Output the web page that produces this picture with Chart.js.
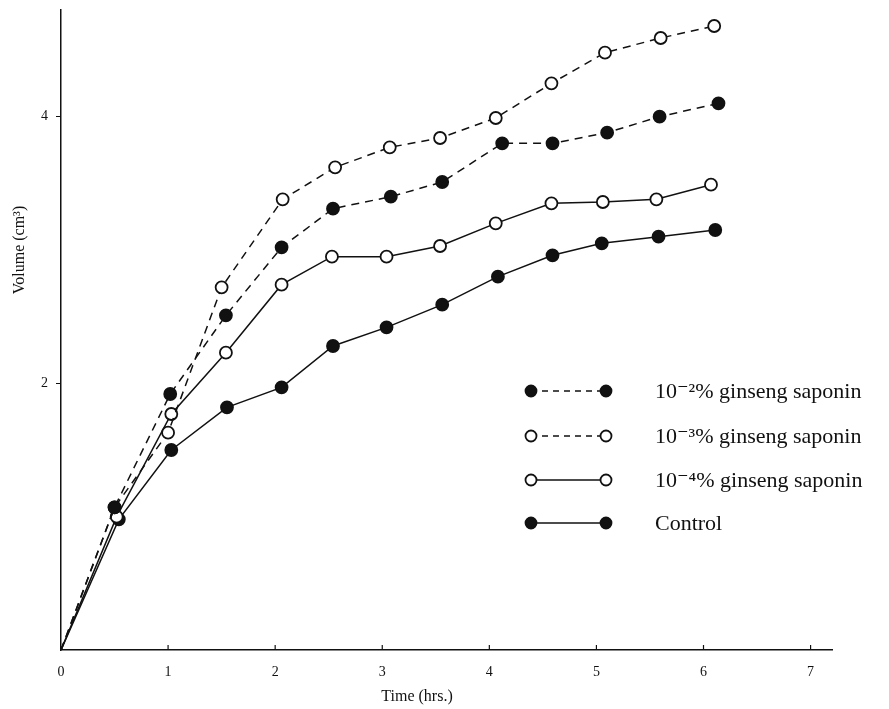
<!DOCTYPE html>
<html>
<head>
<meta charset="utf-8">
<script src="https://cdn.jsdelivr.net/npm/chart.js@4/dist/chart.umd.min.js"></script>
<style>
  html, body { margin: 0; padding: 0; background: #fff; }
  #wrap { width: 889px; height: 709px; }
</style>
</head>
<body>
<div id="wrap"><canvas id="chart" width="889" height="709"></canvas></div>
<script>
const xTicks = [0, 1, 2, 3, 4, 5, 6, 7];
const yTicks = [2, 4];

// 10^-2 % saponin (filled, dashed)
const time2 = [0, 0.50, 1.02, 1.54, 2.06, 2.54, 3.08, 3.56, 4.12, 4.59, 5.10, 5.59, 6.14];
const vol2 = [0, 1.07, 1.92, 2.51, 3.02, 3.31, 3.40, 3.51, 3.80, 3.80, 3.88, 4.00, 4.10];
// 10^-3 % saponin (open, dashed)
const time3 = [0, 0.50, 1.00, 1.50, 2.07, 2.56, 3.07, 3.54, 4.06, 4.58, 5.08, 5.60, 6.10];
const vol3 = [0, 1.07, 1.63, 2.72, 3.38, 3.62, 3.77, 3.84, 3.99, 4.25, 4.48, 4.59, 4.68];
// 10^-4 % saponin (open, solid)
const time4 = [0, 0.52, 1.03, 1.54, 2.06, 2.53, 3.04, 3.54, 4.06, 4.58, 5.06, 5.56, 6.07];
const vol4 = [0, 1.00, 1.77, 2.23, 2.74, 2.95, 2.95, 3.03, 3.20, 3.35, 3.36, 3.38, 3.49];
// control (filled, solid)
const timeC = [0, 0.54, 1.03, 1.55, 2.06, 2.54, 3.04, 3.56, 4.08, 4.59, 5.05, 5.58, 6.11];
const volC = [0, 0.98, 1.50, 1.82, 1.97, 2.28, 2.42, 2.59, 2.80, 2.96, 3.05, 3.10, 3.15];

const seriesNames = [
  "10⁻²% ginseng saponin",
  "10⁻³% ginseng saponin",
  "10⁻⁴% ginseng saponin",
  "Control"
];

const ink = "#111";
const serif = "'Liberation Serif', 'DejaVu Serif', serif";

function makeSet(name, t, v, filled, dashed) {
  return {
    label: name,
    data: t.map((x, i) => ({ x: x, y: v[i] })),
    borderColor: ink,
    borderWidth: 1.5,
    borderDash: dashed ? [8, 6] : [],
    pointRadius: (c) => (c.dataIndex === 0 ? 0 : 6),
    pointBackgroundColor: filled ? ink : "#fff",
    pointBorderColor: ink,
    pointBorderWidth: 1.8,
    tension: 0,
    filled: filled,
    dashed: dashed
  };
}

const datasets = [
  makeSet(seriesNames[0], time2, vol2, true, true),
  makeSet(seriesNames[1], time3, vol3, false, true),
  makeSet(seriesNames[2], time4, vol4, false, false),
  makeSet(seriesNames[3], timeC, volC, true, false)
];

// legend rows drawn inside the plot, with a marker at each end of the line
const legendRows = [391, 436, 480, 523];

const extras = {
  id: "extras",
  afterDraw(chart) {
    const ctx = chart.ctx;
    const area = chart.chartArea;
    const xs = chart.scales.x;

    // inward tick marks on the time axis
    ctx.save();
    ctx.strokeStyle = ink;
    ctx.lineWidth = 1.2;
    xTicks.forEach((v) => {
      if (v === 0) return;
      const px = xs.getPixelForValue(v);
      ctx.beginPath();
      ctx.moveTo(px, area.bottom);
      ctx.lineTo(px, area.bottom - 5);
      ctx.stroke();
    });

    // axis titles
    ctx.fillStyle = ink;
    ctx.font = "16px " + serif;
    ctx.textAlign = "center";
    ctx.textBaseline = "middle";
    ctx.fillText("Time (hrs.)", 417, 697);
    ctx.save();
    ctx.translate(20, 250);
    ctx.rotate(-Math.PI / 2);
    ctx.fillText("Volume (cm³)", 0, 0);
    ctx.restore();

    // legend
    chart.data.datasets.forEach((ds, i) => {
      const y = legendRows[i];
      const x1 = 531, x2 = 606;
      ctx.lineWidth = 1.4;
      ctx.setLineDash(ds.dashed ? [6, 5] : []);
      ctx.beginPath();
      ctx.moveTo(x1, y);
      ctx.lineTo(x2, y);
      ctx.stroke();
      ctx.setLineDash([]);
      [x1, x2].forEach((mx) => {
        ctx.beginPath();
        ctx.arc(mx, y, 5.5, 0, Math.PI * 2);
        ctx.fillStyle = ds.filled ? ink : "#fff";
        ctx.fill();
        ctx.lineWidth = 1.8;
        ctx.stroke();
      });
      ctx.fillStyle = ink;
      ctx.font = "22px " + serif;
      ctx.textAlign = "left";
      ctx.fillText(ds.label, 655, y + 1);
    });
    ctx.restore();
  }
};

new Chart(document.getElementById("chart"), {
  type: "line",
  data: { datasets: datasets },
  options: {
    responsive: false,
    animation: false,
    devicePixelRatio: 1,
    layout: { padding: { top: 10, right: 57, left: 0, bottom: 0 } },
    plugins: { legend: { display: false }, tooltip: { enabled: false } },
    scales: {
      x: {
        type: "linear",
        min: 0,
        max: 7.2,
        afterBuildTicks: (s) => { s.ticks = xTicks.map((v) => ({ value: v })); },
        afterFit: (s) => { s.height = 59; s.paddingLeft = 0; s.paddingRight = 0; },
        ticks: { color: ink, font: { family: serif, size: 14 }, padding: 14, autoSkip: false, maxRotation: 0 },
        grid: { drawOnChartArea: false, drawTicks: false },
        border: { color: ink, width: 1.5 }
      },
      y: {
        type: "linear",
        min: 0,
        max: 4.8,
        afterBuildTicks: (s) => { s.ticks = yTicks.map((v) => ({ value: v })); },
        afterFit: (s) => { s.width = 61; s.paddingTop = 0; s.paddingBottom = 0; },
        ticks: { color: ink, font: { family: serif, size: 14 }, padding: 8 },
        grid: { drawOnChartArea: false, drawTicks: true, tickLength: 5, tickColor: ink },
        border: { color: ink, width: 1.5 }
      }
    }
  },
  plugins: [extras]
});
</script>
</body>
</html>
